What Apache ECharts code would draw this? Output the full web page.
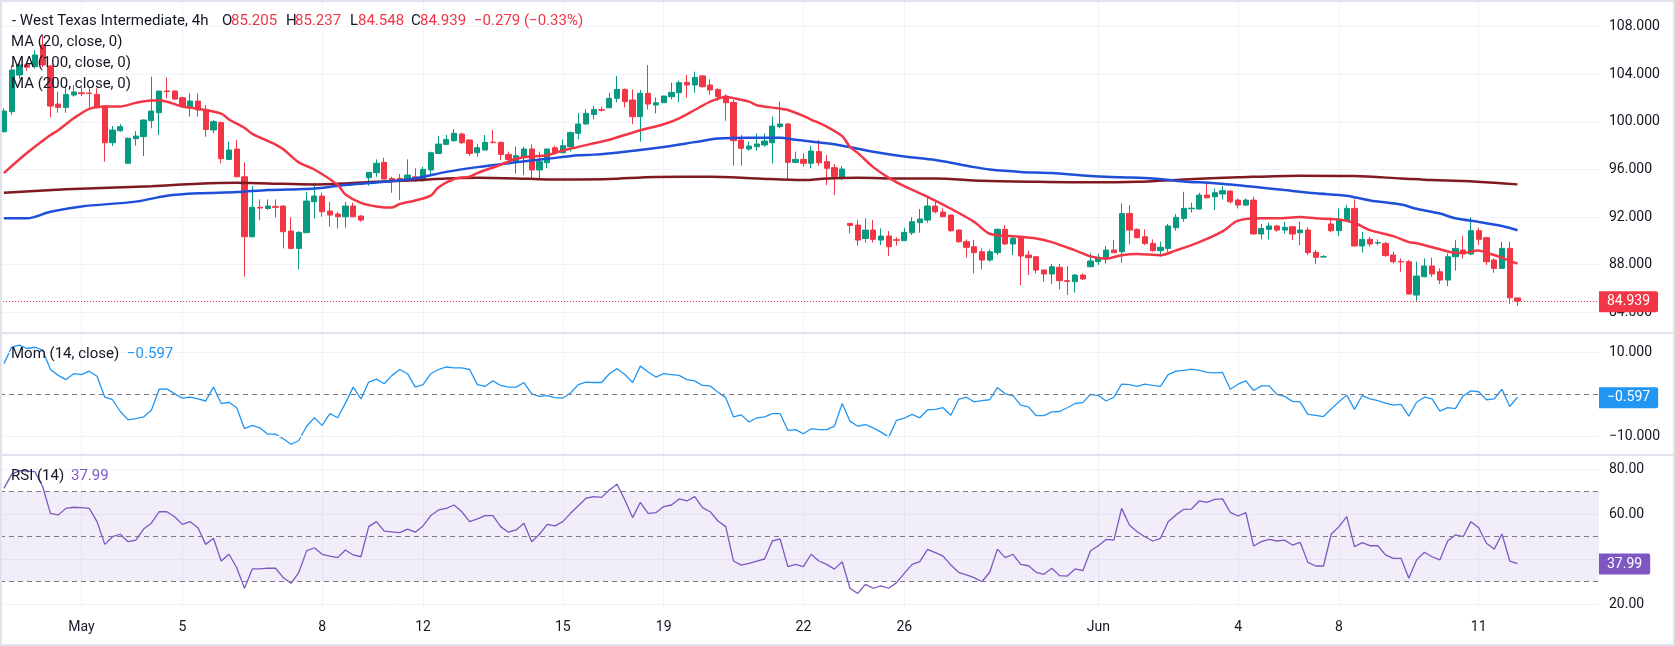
<!DOCTYPE html>
<html>
<head>
<meta charset="utf-8">
<title>West Texas Intermediate, 4h</title>
<script src="https://cdn.jsdelivr.net/npm/echarts@6.0.0/dist/echarts.min.js"></script>
<style>
  html, body { margin: 0; padding: 0; background: #ffffff; }
  #chart { width: 1675px; height: 646px; }
</style>
</head>
<body>
<div id="chart"></div>
<script>
// 4h candles, index 0 = first bar on the left
const opens = [
  99.18, 100.86, 103.94, 104.80, 104.64, 106.46, 104.69, 101.50, 101.22, 102.26,
  102.45, 102.42, 102.31, 101.33, 98.25, 99.26, 96.52, 98.59, 98.76, 100.10,
  100.77, 102.60, 102.59, 102.03, 101.28, 101.75, 101.05, 99.32, 99.96, 96.85,
  97.72, 95.39, 90.35, 92.82, 92.73, 92.90, 92.93, 90.83, 89.37, 90.69,
  93.29, 93.77, 92.51, 92.26, 92.03, 92.93, 92.09, 95.31, 95.73, 96.60,
  95.25, 95.25, 95.06, 95.39, 95.06, 95.96, 97.35, 98.11, 98.42, 98.98,
  98.48, 97.41, 97.64, 98.30, 98.28, 97.27, 96.66, 97.00, 97.72, 95.96,
  96.57, 97.83, 97.41, 97.92, 99.04, 99.82, 100.63, 101.02, 101.19, 101.98,
  102.73, 101.84, 100.44, 102.40, 101.42, 101.61, 102.12, 102.45, 103.32, 103.10,
  103.86, 103.10, 102.73, 102.17, 101.64, 98.48, 97.72, 97.92, 98.06, 98.25,
  99.60, 99.82, 96.60, 96.85, 96.52, 97.50, 96.66, 96.15, 95.31, 91.47,
  91.33, 90.21, 90.91, 90.07, 90.41, 90.10, 90.02, 90.69, 91.53, 91.75,
  92.93, 92.42, 92.17, 90.91, 89.93, 89.51, 89.09, 88.39, 89.01, 90.97,
  89.74, 90.27, 88.81, 88.67, 87.55, 87.22, 87.78, 86.66, 86.57, 87.13,
  87.83, 88.25, 88.53, 89.23, 89.09, 92.31, 90.97, 90.35, 89.79, 89.18,
  89.37, 91.11, 91.89, 92.70, 92.68, 93.85, 93.71, 93.94, 94.19, 93.43,
  93.01, 93.43, 90.58, 90.97, 91.25, 90.91, 91.19, 90.69, 90.91, 89.04,
  88.65, 91.42, 90.86, 91.70, 92.73, 89.57, 90.13, 89.82, 89.79, 88.81,
  88.27, 88.25, 85.45, 86.99, 87.89, 87.41, 86.71, 88.67, 89.23, 88.90,
  90.86, 90.27, 88.39, 87.69, 89.37, 85.205
];
const closes = [
  100.91, 104.36, 104.78, 104.60, 105.62, 104.78, 101.33, 101.22, 102.31, 102.51,
  102.37, 102.38, 101.19, 98.25, 99.32, 99.60, 98.62, 98.81, 100.16, 100.91,
  102.59, 102.55, 101.92, 101.28, 101.75, 101.00, 99.37, 100.02, 96.91, 97.64,
  95.39, 90.35, 92.82, 92.76, 92.93, 92.82, 90.77, 89.37, 90.72, 93.35,
  93.77, 92.45, 92.17, 92.03, 92.93, 92.03, 91.75, 95.76, 96.52, 95.20,
  95.11, 95.06, 95.53, 95.06, 96.01, 97.41, 98.14, 98.53, 99.04, 98.25,
  97.35, 97.83, 98.28, 98.26, 97.27, 96.85, 97.16, 97.72, 95.96, 96.66,
  97.72, 97.41, 98.00, 99.10, 99.82, 100.72, 101.05, 100.98, 101.98, 102.73,
  101.70, 100.44, 102.40, 101.50, 101.61, 102.17, 102.48, 103.30, 103.10, 103.74,
  102.96, 102.68, 102.12, 101.61, 98.42, 97.78, 97.97, 98.14, 98.39, 99.65,
  99.82, 96.60, 96.85, 96.52, 97.55, 96.57, 96.10, 95.39, 96.04, 91.30,
  90.07, 90.91, 90.13, 90.41, 89.51, 90.05, 90.72, 91.61, 91.84, 92.93,
  92.45, 92.03, 90.86, 89.93, 89.46, 89.01, 88.39, 89.09, 90.97, 89.74,
  90.21, 88.73, 88.59, 87.55, 87.22, 87.83, 86.66, 86.60, 87.13, 86.80,
  88.31, 88.62, 89.23, 89.01, 92.31, 90.91, 90.27, 89.79, 89.18, 89.46,
  91.25, 91.98, 92.73, 92.75, 93.85, 93.63, 94.05, 94.22, 93.29, 93.01,
  93.43, 90.58, 91.05, 91.25, 90.91, 91.14, 90.58, 90.91, 89.01, 88.62,
  88.67, 90.86, 91.75, 92.73, 89.57, 90.13, 89.74, 89.85, 88.76, 88.25,
  88.23, 85.54, 87.05, 87.89, 87.22, 86.71, 88.67, 89.37, 88.90, 90.86,
  90.13, 88.25, 87.69, 89.37, 85.22, 84.939
];
const lows = [
  99.10, 100.58, 103.60, 104.30, 104.50, 104.60, 100.38, 100.77, 100.77, 102.12,
  102.17, 101.19, 101.14, 96.66, 97.97, 99.18, 96.50, 98.00, 97.13, 99.46,
  98.90, 101.98, 101.84, 101.19, 100.44, 100.44, 98.76, 99.04, 96.52, 96.80,
  95.35, 86.99, 90.30, 91.75, 92.59, 91.98, 89.37, 89.30, 87.61, 90.65,
  91.89, 92.03, 91.19, 91.05, 91.11, 92.00, 91.61, 94.64, 95.39, 95.20,
  94.05, 93.43, 94.97, 94.97, 94.97, 95.62, 97.30, 98.06, 98.34, 98.14,
  97.13, 97.08, 97.60, 98.20, 96.80, 96.66, 95.67, 95.53, 95.11, 95.11,
  96.10, 97.35, 97.35, 97.50, 98.53, 99.80, 100.21, 100.86, 101.19, 101.64,
  101.22, 99.82, 98.34, 101.05, 100.72, 101.60, 101.90, 101.64, 102.03, 102.45,
  102.90, 102.26, 101.75, 100.10, 96.32, 96.32, 97.58, 97.58, 97.92, 96.52,
  99.46, 95.11, 96.52, 96.24, 96.10, 96.32, 94.69, 93.85, 95.11, 90.63,
  89.60, 89.85, 89.85, 89.65, 88.73, 89.60, 90.00, 90.49, 90.69, 91.53,
  92.31, 91.98, 90.77, 89.85, 88.59, 87.27, 87.61, 88.25, 88.81, 89.65,
  88.81, 86.29, 87.13, 87.27, 86.57, 86.38, 85.93, 85.45, 85.65, 86.71,
  87.83, 87.97, 88.11, 89.00, 88.17, 89.71, 90.21, 89.65, 89.09, 88.67,
  89.09, 90.86, 91.61, 92.37, 92.65, 93.57, 92.59, 93.49, 93.15, 92.73,
  92.93, 90.55, 90.13, 90.13, 90.77, 90.63, 90.07, 89.65, 88.81, 88.06,
  88.60, 90.72, 90.41, 91.60, 89.55, 89.01, 89.51, 89.65, 88.67, 88.11,
  87.41, 85.50, 84.97, 86.94, 86.99, 86.38, 86.21, 87.50, 88.53, 88.81,
  89.65, 87.97, 87.33, 87.69, 84.69, 84.548
];
const highs = [
  101.14, 104.78, 105.10, 105.00, 106.04, 107.30, 104.80, 102.54, 103.10, 103.10,
  102.90, 102.82, 102.82, 101.42, 99.65, 99.82, 98.70, 99.23, 100.20, 103.80,
  102.62, 103.74, 102.68, 102.12, 102.40, 102.40, 101.42, 100.16, 100.02, 98.34,
  98.48, 96.60, 94.61, 93.49, 93.49, 93.49, 93.00, 91.98, 90.80, 94.13,
  94.89, 94.05, 93.29, 92.45, 93.29, 93.21, 92.17, 95.80, 96.85, 96.99,
  95.39, 95.62, 96.85, 96.10, 96.24, 97.50, 98.81, 98.90, 99.40, 99.10,
  98.50, 98.14, 98.90, 99.32, 98.34, 97.50, 97.92, 97.92, 98.11, 97.50,
  97.72, 98.00, 98.53, 99.20, 100.72, 101.05, 101.33, 101.28, 102.45, 103.86,
  102.82, 102.73, 102.68, 104.78, 102.06, 102.20, 103.30, 103.46, 103.94, 104.22,
  103.94, 103.58, 102.82, 102.31, 101.84, 98.90, 98.34, 99.04, 99.04, 100.44,
  101.70, 99.90, 97.50, 97.36, 98.00, 98.48, 97.22, 96.46, 96.29, 91.50,
  91.75, 91.89, 91.75, 91.05, 90.83, 90.30, 91.11, 91.98, 92.68, 93.66,
  93.29, 92.73, 92.20, 90.97, 90.13, 90.07, 89.37, 89.29, 91.05, 91.33,
  90.41, 90.30, 89.18, 88.70, 87.60, 88.06, 88.06, 87.89, 87.22, 87.27,
  88.95, 88.95, 89.57, 90.07, 93.15, 93.01, 91.05, 90.97, 90.13, 89.93,
  91.42, 92.26, 94.13, 93.21, 94.05, 94.89, 94.41, 94.61, 94.20, 93.57,
  93.57, 93.71, 91.42, 91.53, 91.33, 91.61, 91.20, 91.61, 91.14, 89.23,
  88.81, 91.98, 92.73, 93.01, 93.49, 90.77, 90.35, 90.13, 89.93, 89.09,
  88.53, 88.39, 88.25, 88.53, 88.59, 87.69, 88.95, 90.07, 90.41, 91.98,
  91.11, 90.35, 88.53, 89.93, 89.93, 85.237
];

// moving averages as [bar index, value]
const ma20 = [
  [0, 95.7], [3, 97.4], [6, 98.9], [7, 99.3], [9, 100.3], [11, 101.1], [13, 101.3], [15, 101.3],
  [17, 101.6], [19, 101.8], [20, 101.8], [21, 101.7], [23, 101.3], [25, 101.1], [28, 100.7],
  [29, 100.2], [31, 99.5], [32, 99.0], [35, 98.1], [36, 97.7], [38, 96.6], [40, 96.0], [43, 94.7],
  [44, 93.9], [46, 93.2], [48, 92.9], [50, 92.8], [51, 93.1], [53, 93.4], [55, 93.8], [56, 94.5],
  [58, 95.2], [60, 95.4], [61, 95.7], [64, 96.4], [66, 96.9], [68, 97.1], [70, 97.2], [72, 97.6],
  [74, 97.9], [76, 98.2], [78, 98.5], [80, 98.9], [82, 99.3], [85, 99.8], [87, 100.3], [89, 101.0],
  [91, 101.7], [93, 102.1], [94, 102.0], [96, 101.7], [97, 101.4], [99, 101.2], [101, 101.0],
  [103, 100.5], [104, 100.2], [106, 99.6], [108, 98.8], [109, 97.9], [110, 97.4], [112, 96.2],
  [114, 95.3], [116, 94.6], [119, 93.7], [122, 92.7], [125, 91.6], [127, 90.6], [130, 90.4],
  [133, 90.2], [135, 89.9], [138, 89.2], [140, 88.7], [142, 88.5], [144, 88.8], [146, 88.9],
  [149, 88.8], [151, 89.2], [154, 89.9], [157, 90.8], [159, 91.7], [162, 91.9], [164, 91.9],
  [167, 92.0], [169, 91.9], [172, 91.8], [174, 91.5], [176, 90.9], [179, 90.4], [181, 89.9],
  [182, 89.8], [185, 89.3], [187, 89.0], [188, 89.0], [190, 89.2], [191, 89.0], [193, 88.6],
  [194, 88.3], [195, 88.1]
];
const ma100 = [
  [0, 91.9], [3, 91.9], [6, 92.45], [10, 92.9], [17, 93.3], [21, 93.8], [25, 94.0], [30, 94.1],
  [34, 94.27], [38, 94.35], [40, 94.4], [44, 94.7], [48, 94.9], [53, 95.25], [57, 95.8], [61, 96.2],
  [66, 96.6], [70, 96.9], [74, 97.2], [76, 97.25], [80, 97.5], [85, 97.9], [89, 98.3], [92, 98.6],
  [96, 98.67], [100, 98.67], [102, 98.5], [106, 98.2], [108, 98.0], [112, 97.5], [116, 97.1],
  [120, 96.8], [125, 96.2], [127, 96.0], [131, 95.8], [135, 95.7], [140, 95.45], [144, 95.35],
  [148, 95.25], [152, 95.0], [156, 94.85], [161, 94.55], [165, 94.27], [169, 94.0], [173, 93.8],
  [176, 93.4], [180, 93.05], [182, 92.7], [185, 92.3], [187, 91.9], [190, 91.6], [193, 91.25],
  [195, 90.9]
];
const ma200 = [
  [0, 94.05], [8, 94.33], [19, 94.6], [25, 94.8], [30, 94.88], [36, 94.8], [40, 94.75], [44, 94.83],
  [48, 94.97], [53, 95.1], [57, 95.25], [61, 95.3], [66, 95.25], [70, 95.17], [74, 95.17], [78, 95.2],
  [84, 95.38], [91, 95.4], [97, 95.25], [103, 95.11], [106, 95.25], [110, 95.3], [116, 95.25],
  [120, 95.25], [126, 95.06], [133, 94.97], [140, 94.92], [146, 94.97], [152, 95.17], [159, 95.34],
  [167, 95.48], [174, 95.45], [180, 95.25], [184, 95.11], [188, 95.03], [192, 94.89], [195, 94.75]
];

// Mom (14, close)
const momentum = [
  7.4, 11.3, 11.8, 11.0, 11.3, 10.6, 6.0, 4.6, 3.6, 5.0,
  4.8, 5.6, 4.4, -0.6, -1.2, -4.0, -6.0, -5.7, -5.3, -3.7,
  1.3, 1.4, 0.2, -0.8, -0.6, -1.0, -1.5, 1.8, -2.1, -1.8,
  -3.1, -8.1, -7.3, -7.9, -9.4, -9.4, -10.5, -11.8, -10.9, -7.5,
  -5.5, -7.3, -4.5, -5.5, -2.0, 1.8, -1.0, 3.0, 3.7, 2.6,
  4.6, 6.0, 5.0, 1.8, 2.4, 5.0, 6.0, 6.6, 6.4, 6.4,
  6.0, 2.4, 2.0, 3.3, 2.2, 1.8, 1.8, 2.9, 0.2, -0.4,
  -0.2, -0.7, -0.8, 0.4, 2.4, 3.0, 2.9, 2.9, 5.0, 6.2,
  4.8, 2.9, 6.8, 5.4, 4.2, 5.0, 4.8, 4.6, 3.6, 3.3,
  2.2, 2.1, 0.6, -0.7, -5.3, -4.8, -6.5, -5.5, -5.3, -4.5,
  -4.5, -8.5, -8.3, -9.3, -8.1, -8.3, -8.3, -7.5, -2.1, -6.3,
  -7.5, -7.1, -7.9, -8.9, -10.1, -6.1, -5.6, -4.7, -5.5, -3.6,
  -3.5, -3.1, -4.9, -1.1, -0.6, -1.7, -1.4, -1.2, 1.7, 0.2,
  -0.2, -2.5, -2.9, -5.0, -5.0, -4.1, -4.0, -3.1, -2.1, -1.9,
  0.1, -0.2, -1.5, -0.6, 2.5, 2.4, 2.0, 2.5, 2.2, 2.0,
  4.8, 5.6, 5.8, 6.1, 5.8, 5.3, 5.2, 5.3, 1.3, 2.5,
  3.3, 1.0, 2.1, 2.1, 0.1, -0.4, -1.6, -1.7, -4.7, -4.9,
  -5.2, -3.4, -1.7, -0.1, -3.5, -0.2, -1.0, -1.4, -2.0, -2.5,
  -2.3, -5.1, -1.8, -0.6, -1.0, -3.9, -3.1, -3.3, -0.3, 0.9,
  0.7, -1.2, -1.0, 1.3, -2.8, -0.597
];

// RSI (14)
const rsi = [
  71.4, 77.6, 79.3, 79.1, 78.8, 72.1, 60.3, 59.6, 62.5, 63.0,
  62.8, 62.5, 56.6, 46.5, 49.9, 51.0, 47.7, 48.4, 53.3, 55.9,
  61.0, 61.0, 58.8, 55.4, 56.6, 53.9, 46.5, 49.2, 39.1, 42.1,
  36.1, 27.0, 35.6, 35.6, 35.9, 35.9, 31.7, 29.2, 34.1, 43.6,
  45.0, 42.1, 41.3, 40.6, 44.0, 41.8, 41.0, 54.4, 56.6, 52.4,
  52.1, 51.7, 53.3, 51.9, 54.7, 59.3, 61.8, 62.5, 64.0, 61.0,
  56.6, 57.8, 59.3, 59.3, 54.4, 51.9, 52.9, 55.9, 47.7, 51.0,
  55.4, 54.7, 56.6, 60.3, 63.7, 67.0, 67.7, 67.4, 70.7, 73.2,
  66.2, 58.4, 65.2, 60.3, 60.6, 63.3, 64.0, 66.7, 65.8, 67.7,
  62.8, 61.0, 56.9, 54.4, 39.1, 37.3, 38.1, 39.1, 40.0, 48.0,
  48.9, 36.6, 37.6, 36.6, 42.1, 39.1, 37.6, 35.5, 38.8, 27.0,
  24.7, 28.7, 27.0, 28.1, 27.0, 29.5, 33.6, 37.6, 38.8, 44.3,
  42.8, 41.3, 37.3, 34.1, 32.9, 31.7, 29.9, 34.1, 44.4, 40.6,
  42.1, 37.6, 37.0, 34.1, 33.2, 35.9, 32.6, 32.4, 35.6, 34.8,
  43.7, 45.9, 48.7, 48.4, 62.5, 55.1, 52.1, 49.9, 48.0, 49.2,
  56.6, 59.6, 62.1, 62.2, 65.8, 65.2, 66.5, 66.7, 60.7, 59.1,
  60.6, 45.8, 47.7, 48.7, 48.0, 48.4, 46.2, 47.4, 38.5, 36.9,
  36.9, 51.0, 54.4, 58.8, 45.5, 47.3, 45.9, 45.9, 41.8, 40.3,
  40.3, 31.4, 39.6, 43.0, 41.0, 39.6, 48.0, 50.7, 49.9, 56.6,
  53.9, 47.0, 44.4, 51.1, 39.1, 37.99
];

// date labels on the time axis, keyed by bar index
const dateLabels = {
  10: 'May', 23: '5', 41: '8', 54: '12', 72: '15', 85: '19',
  103: '22', 116: '26', 141: 'Jun', 159: '4', 172: '8', 190: '11'
};

const lastPrice = 84.939;
const lastMom = -0.597;
const lastRsi = 37.99;

const slotCount = 206; // bars plus empty space on the right
const slots = Array.from({ length: slotCount }, (_, i) => String(i));

const FONT = 'Roboto, "Noto Sans", sans-serif';
const TEXT = '#131722';
const GRID = '#f0f3fa';
const UP = '#089981';
const DOWN = '#f23645';

const chart = echarts.init(document.getElementById('chart'), null, { renderer: 'canvas' });

const candles = opens.map((o, i) => [o, closes[i], lows[i], highs[i]]);
const isLabel = (i) => dateLabels[i] !== undefined;

function hiddenX(gridIndex) {
  return { type: 'category', gridIndex: gridIndex, data: slots, boundaryGap: true, show: false };
}

function priceTag(value, bg, text, showLine) {
  return {
    show: true,
    value: value,
    status: 'show',
    snap: false,
    triggerTooltip: false,
    lineStyle: showLine
      ? { color: DOWN, width: 1, type: [1, 2] }
      : { opacity: 0 },
    label: {
      show: true,
      formatter: () => text,
      backgroundColor: bg,
      color: '#ffffff',
      fontFamily: FONT,
      fontSize: 14,
      lineHeight: 15,
      padding: [3, 8, 3, 8],
      margin: 0,
      borderRadius: [0, 2, 2, 0],
      shadowBlur: 0
    }
  };
}

function legendText(x, y, text, color) {
  return {
    type: 'text',
    x: x,
    y: y,
    z: 100,
    silent: true,
    style: {
      text: text,
      fill: color || TEXT,
      font: '15px ' + FONT,
      verticalAlign: 'middle'
    }
  };
}

const option = {
  animation: false,
  backgroundColor: '#ffffff',
  grid: [
    { left: 0, right: 76, top: 26.7, height: 285.6 },
    { left: 0, right: 76, top: 331.7, height: 126 },
    { left: 0, right: 76, top: 469, height: 135 },
    { left: 3.88, right: 79.88, top: 2, bottom: 37 }
  ],
  xAxis: [
    hiddenX(0),
    hiddenX(1),
    hiddenX(2),
    {
      type: 'category',
      gridIndex: 3,
      data: slots,
      boundaryGap: false,
      axisLine: { show: false },
      axisTick: { show: false },
      axisLabel: {
        interval: (i) => isLabel(i),
        formatter: (v, i) => dateLabels[i] || '',
        color: TEXT,
        fontFamily: FONT,
        fontSize: 14,
        margin: 11
      },
      splitLine: {
        show: true,
        interval: (i) => isLabel(i),
        lineStyle: { color: GRID, width: 1 }
      }
    }
  ],
  yAxis: [
    {
      type: 'value',
      gridIndex: 0,
      position: 'right',
      min: 84,
      max: 108,
      interval: 4,
      axisLine: { show: false },
      axisTick: { show: false },
      axisLabel: {
        formatter: (v) => v.toFixed(3),
        color: TEXT,
        fontFamily: FONT,
        fontSize: 14,
        margin: 10
      },
      splitLine: { lineStyle: { color: GRID, width: 1 } },
      axisPointer: priceTag(lastPrice, DOWN, lastPrice.toFixed(3), true)
    },
    {
      type: 'value',
      gridIndex: 1,
      position: 'right',
      min: -15,
      max: 15,
      interval: 5,
      axisLine: { show: false },
      axisTick: { show: false },
      axisLabel: {
        formatter: (v) => (v === 10 ? '10.000' : v === -10 ? '\u221210.000' : ''),
        color: TEXT,
        fontFamily: FONT,
        fontSize: 14,
        margin: 10
      },
      splitLine: { show: false },
      axisPointer: priceTag(lastMom, '#2196f3', '\u2212' + Math.abs(lastMom).toFixed(3), false)
    },
    {
      type: 'value',
      gridIndex: 2,
      position: 'right',
      min: 20,
      max: 80,
      interval: 20,
      axisLine: { show: false },
      axisTick: { show: false },
      axisLabel: {
        // 40.00 sits under the RSI value tag, as in the original
        formatter: (v) => (v === 40 ? '' : v.toFixed(2)),
        color: TEXT,
        fontFamily: FONT,
        fontSize: 14,
        margin: 10
      },
      splitLine: { lineStyle: { color: GRID, width: 1 } },
      axisPointer: priceTag(lastRsi, '#7e57c2', lastRsi.toFixed(2), false)
    },
    { type: 'value', gridIndex: 3, show: false, min: 0, max: 1 }
  ],
  series: [
    {
      name: 'WTI',
      type: 'candlestick',
      xAxisIndex: 0,
      yAxisIndex: 0,
      data: candles,
      barWidth: '74%',
      itemStyle: {
        color: UP,
        color0: DOWN,
        borderColor: UP,
        borderColor0: DOWN,
        borderWidth: 1
      }
    },
    {
      name: 'MA 200',
      type: 'line',
      xAxisIndex: 0,
      yAxisIndex: 0,
      data: ma200,
      smooth: 0.3,
      showSymbol: false,
      lineStyle: { color: '#801922', width: 2.5 },
      z: 3
    },
    {
      name: 'MA 100',
      type: 'line',
      xAxisIndex: 0,
      yAxisIndex: 0,
      data: ma100,
      smooth: 0.3,
      showSymbol: false,
      lineStyle: { color: '#1f4fd8', width: 2.5 },
      z: 3
    },
    {
      name: 'MA 20',
      type: 'line',
      xAxisIndex: 0,
      yAxisIndex: 0,
      data: ma20,
      smooth: 0.3,
      showSymbol: false,
      lineStyle: { color: '#f23645', width: 2.5 },
      z: 3
    },
    {
      name: 'Mom',
      type: 'line',
      xAxisIndex: 1,
      yAxisIndex: 1,
      data: momentum,
      showSymbol: false,
      lineStyle: { color: '#2196f3', width: 1.3 },
      markLine: {
        silent: true,
        symbol: 'none',
        label: { show: false },
        data: [
          { yAxis: 10, lineStyle: { color: GRID, width: 1, type: 'solid' } },
          { yAxis: -10, lineStyle: { color: GRID, width: 1, type: 'solid' } },
          { yAxis: 0, lineStyle: { color: '#787b86', width: 1, type: [5, 4] } }
        ]
      }
    },
    {
      name: 'RSI',
      type: 'line',
      xAxisIndex: 2,
      yAxisIndex: 2,
      data: rsi,
      showSymbol: false,
      lineStyle: { color: '#7e57c2', width: 1.3 },
      markArea: {
        silent: true,
        itemStyle: { color: 'rgba(126, 87, 194, 0.1)' },
        data: [[{ yAxis: 30 }, { yAxis: 70 }]]
      },
      markLine: {
        silent: true,
        symbol: 'none',
        label: { show: false },
        lineStyle: { color: '#787b86', width: 1, type: [5, 4] },
        data: [{ yAxis: 70 }, { yAxis: 50 }, { yAxis: 30 }]
      }
    }
  ],
  graphic: [
    // outer frame and pane separators
    {
      type: 'rect',
      z: 90,
      silent: true,
      shape: { x: 1, y: 1, width: 1673, height: 644 },
      style: { fill: null, stroke: '#e0e3eb', lineWidth: 2 }
    },
    {
      type: 'line',
      z: 90,
      silent: true,
      shape: { x1: 0, y1: 333, x2: 1675, y2: 333 },
      style: { stroke: '#e0e3eb', lineWidth: 2 }
    },
    {
      type: 'line',
      z: 90,
      silent: true,
      shape: { x1: 0, y1: 455, x2: 1675, y2: 455 },
      style: { stroke: '#e0e3eb', lineWidth: 2 }
    },
    // legends
    legendText(12, 21, '- West Texas Intermediate, 4h'),
    legendText(222, 21, 'O'),
    legendText(231, 21, '85.205', DOWN),
    legendText(286, 21, 'H'),
    legendText(295, 21, '85.237', DOWN),
    legendText(350, 21, 'L'),
    legendText(358, 21, '84.548', DOWN),
    legendText(411, 21, 'C'),
    legendText(420, 21, '84.939', DOWN),
    legendText(474, 21, '\u22120.279 (\u22120.33%)', DOWN),
    legendText(11, 42, 'MA (20, close, 0)'),
    legendText(11, 63, 'MA (100, close, 0)'),
    legendText(11, 84, 'MA (200, close, 0)'),
    legendText(11, 354, 'Mom (14, close)'),
    legendText(127, 354, '\u22120.597', '#2196f3'),
    legendText(11, 476, 'RSI (14)'),
    legendText(71, 476, '37.99', '#7e57c2')
  ]
};

chart.setOption(option);
</script>
</body>
</html>
